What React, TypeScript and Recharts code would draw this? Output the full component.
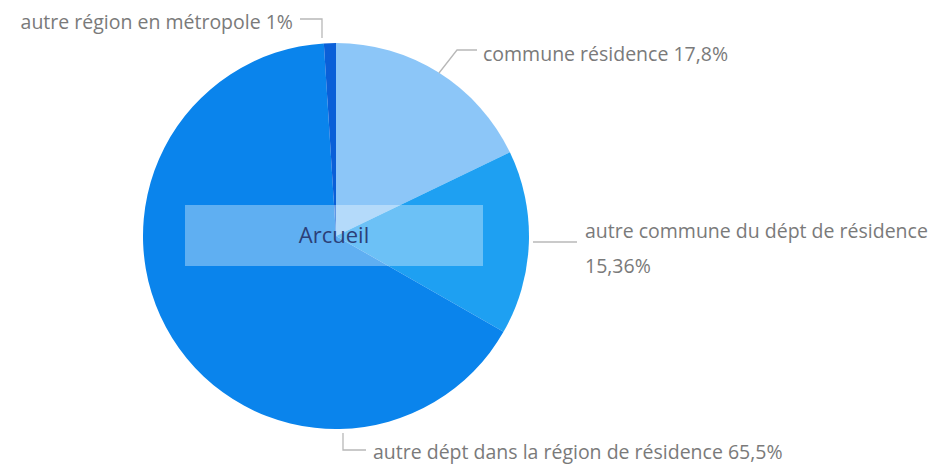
import { PieChart, Pie, Cell } from 'recharts';

const CATEGORIES = [
  'commune résidence',
  'autre commune du dépt de résidence',
  'autre dépt dans la région de résidence',
  'autre région en métropole',
];
const VALUES = [17.8, 15.36, 65.5, 1];
const VALUE_LABELS = ['17,8%', '15,36%', '65,5%', '1%'];
const COLORS = ['#8cc6f8', '#1ea0f2', '#0a84ec', '#0a5fd8'];
const CITY = 'Arcueil';

const chartData = CATEGORIES.map((name, i) => ({
  name,
  value: VALUES[i],
  fill: COLORS[i],
}));

const FONT = '"Open Sans", "DejaVu Sans", sans-serif';
const LABEL_COLOR = '#7a7a7a';
const LINE_COLOR = '#b8b8b8';
const FONT_SIZE = 19.5;

// leader line points and text placement, relative to the pie centre
const LABEL_LAYOUT = [
  { pts: [[103, -163], [121, -186], [141, -186]], tx: 147, ty: -183, anchor: 'start', twoLines: false },
  { pts: [[197, 6], [241, 6]], tx: 249, ty: -6, anchor: 'start', twoLines: true },
  { pts: [[7, 197], [7, 214], [30, 214]], tx: 37, ty: 215, anchor: 'start', twoLines: false },
  { pts: [[-14, -198], [-14, -217], [-36, -217]], tx: -43, ty: -215, anchor: 'end', twoLines: false },
];

function renderLabel(props: any) {
  const { cx, cy, index } = props;
  const l = LABEL_LAYOUT[index];
  const points = l.pts.map(([x, y]) => `${cx + x},${cy + y}`).join(' ');
  const name = CATEGORIES[index];
  const val = VALUE_LABELS[index];
  return (
    <g key={`lbl-${index}`}>
      <polyline points={points} fill="none" stroke={LINE_COLOR} strokeWidth={1.3} />
      {l.twoLines ? (
        <text
          x={cx + l.tx}
          y={cy + l.ty}
          textAnchor={l.anchor}
          dominantBaseline="central"
          fill={LABEL_COLOR}
          fontSize={FONT_SIZE}
          fontFamily={FONT}
        >
          <tspan x={cx + l.tx}>{name}</tspan>
          <tspan x={cx + l.tx} dy={35}>{val}</tspan>
        </text>
      ) : (
        <text
          x={cx + l.tx}
          y={cy + l.ty}
          textAnchor={l.anchor}
          dominantBaseline="central"
          fill={LABEL_COLOR}
          fontSize={FONT_SIZE}
          fontFamily={FONT}
        >
          {`${name} ${val}`}
        </text>
      )}
    </g>
  );
}

export default function App() {
  return (
    <div
      style={{
        position: 'absolute',
        left: 0,
        top: 0,
        width: 940,
        height: 464,
        background: '#ffffff',
      }}
    >
      <PieChart width={940} height={464} margin={{ top: 0, right: 0, bottom: 0, left: 0 }}>
        <Pie
          data={chartData}
          dataKey="value"
          nameKey="name"
          cx={336}
          cy={236}
          outerRadius={193}
          startAngle={90}
          endAngle={-270}
          stroke="none"
          label={renderLabel}
          labelLine={false}
          isAnimationActive={false}
        >
          {chartData.map((entry, index) => (
            <Cell key={index} fill={entry.fill} stroke="none" />
          ))}
        </Pie>
      </PieChart>
      <div
        style={{
          position: 'absolute',
          left: 185,
          top: 205,
          width: 298,
          height: 61,
          background: 'rgba(255,255,255,0.35)',
          display: 'flex',
          alignItems: 'center',
          justifyContent: 'center',
          fontFamily: FONT,
          fontSize: 22,
          color: '#2c3f78',
          paddingBottom: 4,
          boxSizing: 'border-box',
        }}
      >
        {CITY}
      </div>
    </div>
  );
}
